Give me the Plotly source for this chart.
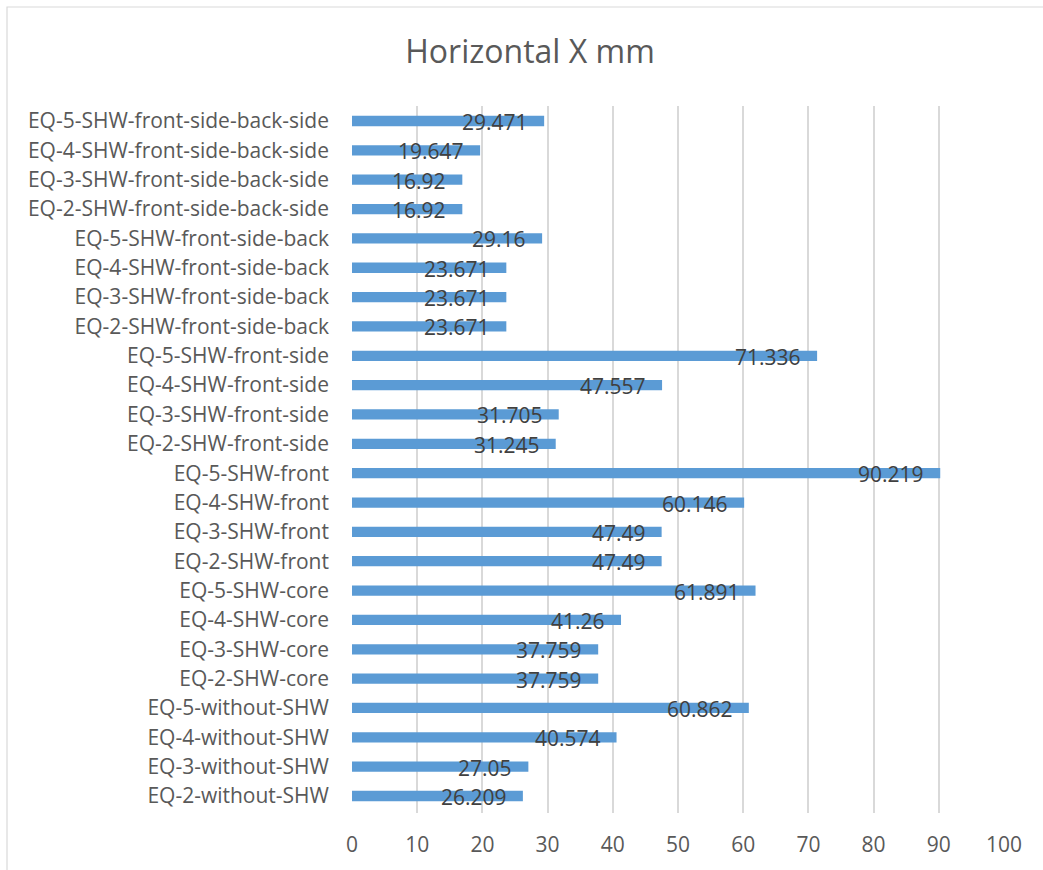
import plotly.graph_objects as go

# Load cases, listed bottom-to-top as they appear on the category axis
categories = [
    "EQ-2-without-SHW", "EQ-3-without-SHW", "EQ-4-without-SHW", "EQ-5-without-SHW",
    "EQ-2-SHW-core", "EQ-3-SHW-core", "EQ-4-SHW-core", "EQ-5-SHW-core",
    "EQ-2-SHW-front", "EQ-3-SHW-front", "EQ-4-SHW-front", "EQ-5-SHW-front",
    "EQ-2-SHW-front-side", "EQ-3-SHW-front-side", "EQ-4-SHW-front-side", "EQ-5-SHW-front-side",
    "EQ-2-SHW-front-side-back", "EQ-3-SHW-front-side-back", "EQ-4-SHW-front-side-back",
    "EQ-5-SHW-front-side-back",
    "EQ-2-SHW-front-side-back-side", "EQ-3-SHW-front-side-back-side",
    "EQ-4-SHW-front-side-back-side", "EQ-5-SHW-front-side-back-side",
]

# Horizontal displacement X (mm)
displacement_x = [
    26.209, 27.05, 40.574, 60.862,
    37.759, 37.759, 41.26, 61.891,
    47.49, 47.49, 60.146, 90.219,
    31.245, 31.705, 47.557, 71.336,
    23.671, 23.671, 23.671, 29.16,
    16.92, 16.92, 19.647, 29.471,
]

x_ticks = [0, 10, 20, 30, 40, 50, 60, 70, 80, 90, 100]

FONT = "'Open Sans', sans-serif"
W, H = 1043, 870
L, R, T, B = 352, 39, 106, 57

fig = go.Figure(
    go.Bar(
        x=displacement_x,
        y=categories,
        orientation="h",
        width=0.35,
        marker=dict(color="#5B9BD5", line=dict(width=0)),
        hoverinfo="x+y",
    )
)

# Value labels sitting at the inner end of each bar
for cat, val in zip(categories, displacement_x):
    fig.add_annotation(
        x=val, y=cat, xref="x", yref="y",
        text=f"{val:g}",
        showarrow=False,
        xanchor="right", yanchor="middle",
        xshift=-14, yshift=-1,
        font=dict(family=FONT, size=21, color="#404040"),
    )

# Chart-area frame
plot_w = W - L - R
plot_h = H - T - B
fig.add_shape(
    type="rect", xref="paper", yref="paper",
    x0=(7 - L) / plot_w, x1=(W + 5 - L) / plot_w,
    y0=-(H + 5 - T - plot_h) / plot_h, y1=1 + (T - 7) / plot_h,
    line=dict(color="#d9d9d9", width=1.2),
    fillcolor="rgba(0,0,0,0)",
    layer="below",
)

fig.update_layout(
    width=W, height=H,
    margin=dict(l=L, r=R, t=T, b=B, pad=0),
    paper_bgcolor="white",
    plot_bgcolor="white",
    showlegend=False,
    bargap=0.65,
    title=dict(
        text="Horizontal X mm",
        x=530 / W, xref="container", xanchor="center",
        y=1 - 52 / H, yref="container", yanchor="middle",
        font=dict(family=FONT, size=32, color="#595959"),
    ),
    xaxis=dict(
        range=[0, 100],
        tickvals=x_ticks,
        ticktext=[str(v) for v in x_ticks],
        showgrid=True, gridcolor="#d9d9d9", gridwidth=1.5,
        zeroline=False,
        showline=False,
        ticks="",
        ticklabelstandoff=17,
        tickfont=dict(family=FONT, size=21, color="#595959"),
        fixedrange=True,
    ),
    yaxis=dict(
        type="category",
        categoryorder="array",
        categoryarray=categories,
        showgrid=False,
        zeroline=False,
        showline=False,
        ticks="",
        ticklabelstandoff=22,
        tickfont=dict(family=FONT, size=21, color="#595959"),
        fixedrange=True,
    ),
)

fig.write_html("out.html")
